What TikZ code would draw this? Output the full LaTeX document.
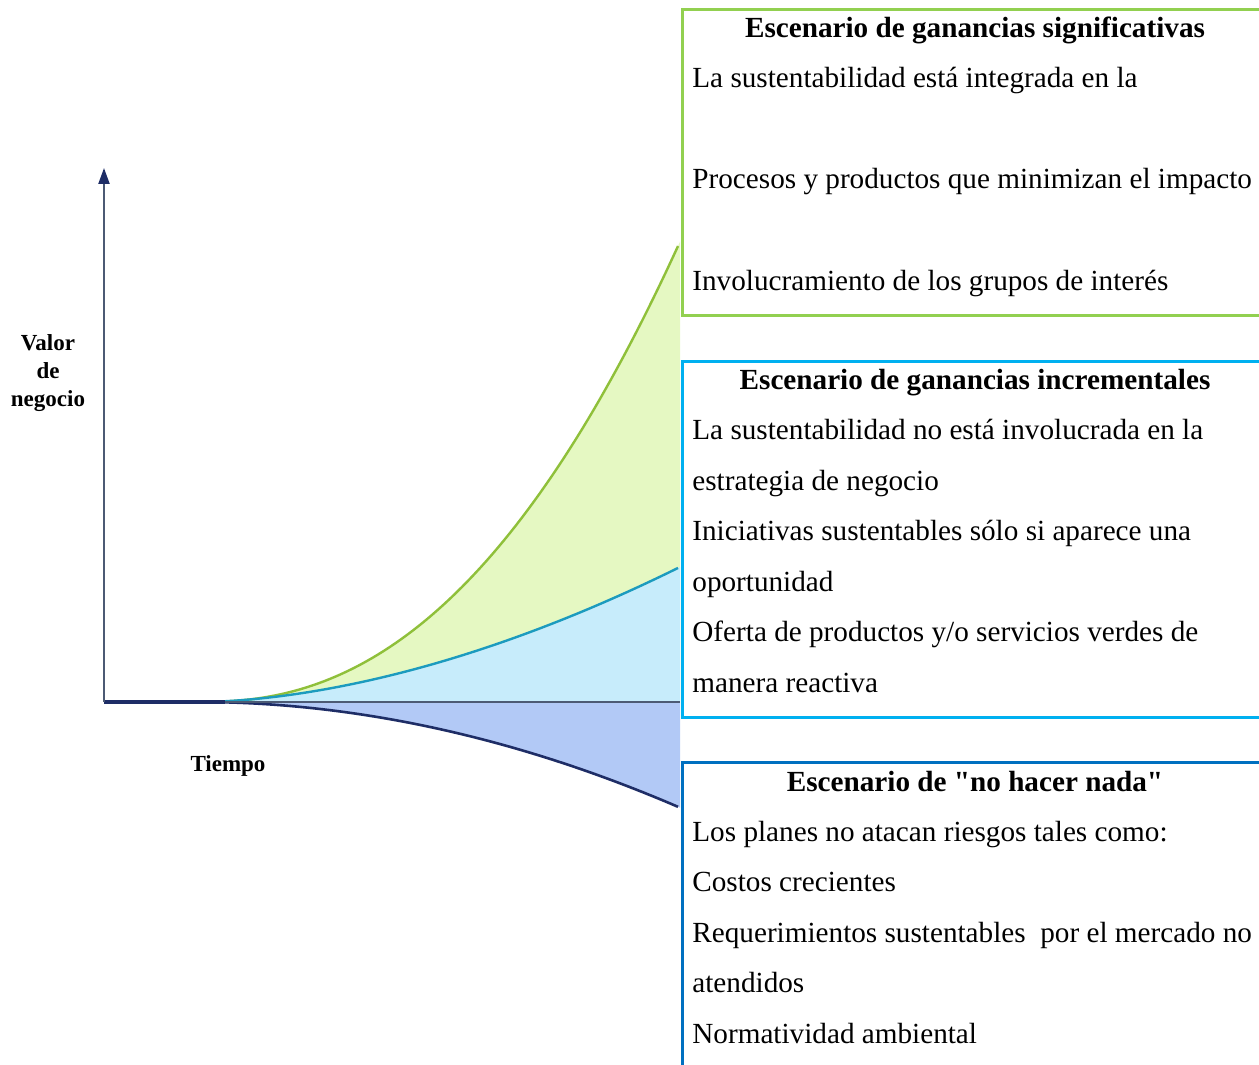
\documentclass[tikz,border=0pt]{standalone}
\usepackage{fontspec}
\setmainfont{Liberation Serif}[Ligatures=TeXOff]
\usetikzlibrary{arrows.meta}
\definecolor{fgreen}{HTML}{E5F8C2}
\definecolor{fcyan}{HTML}{C7ECFB}
\definecolor{fblue}{HTML}{B2C9F6}
\definecolor{lgreen}{HTML}{8FC03A}
\definecolor{lcyan}{HTML}{1C9BBE}
\definecolor{lnavy}{HTML}{1E2D66}
\definecolor{axisc}{HTML}{4C5A74}
\definecolor{bgreen}{HTML}{92D050}
\definecolor{bcyan}{HTML}{00B0F0}
\definecolor{bblue}{HTML}{0070C0}
\begin{document}
\begin{tikzpicture}[x=0.5pt,y=-0.5pt,
  body/.style={font=\fontsize{14.6}{17}\selectfont, inner sep=0pt, anchor=base west},
  ttl/.style={font=\bfseries\fontsize{14.6}{17}\selectfont, inner sep=0pt, anchor=base},
  lbl/.style={font=\bfseries\fontsize{11.5}{13}\selectfont, inner sep=0pt, anchor=base},
  boxline/.style={line width=1.5pt}]
\useasboundingbox (0,0) rectangle (1259,1065);
\fill[white] (0,0) rectangle (1259,1065);
% fills
\fill[fgreen] (104,702) -- (204,702) -- plot[domain=204:680, samples=80] (\x, {702-62*((\x-200)/200)^2.29}) -- (680,702) -- cycle;
\fill[fcyan] (104,702) -- (204,702) -- plot[domain=204:680, samples=80] (\x, {702-29*((\x-200)/200)^1.757}) -- (680,702) -- cycle;
\fill[fblue] (104,702) -- (204,702) -- plot[domain=204:680, samples=80] (\x, {702+19*((\x-200)/200)^1.96}) -- (680,702) -- cycle;
% curves
\draw[lgreen, line width=1.2pt] (204,702) -- plot[domain=204:678, samples=80] (\x, {702-62*((\x-200)/200)^2.29});
\draw[lcyan, line width=1.2pt] (204,702) -- plot[domain=204:678, samples=80] (\x, {702-29*((\x-200)/200)^1.757});
\draw[lnavy, line width=1.3pt] (204,702) -- plot[domain=204:678, samples=80] (\x, {702+19*((\x-200)/200)^1.96});
% axes
\coordinate (O) at (104,702);
\coordinate (Ytop) at (104,168);
\coordinate (Xend) at (680,702);
\draw[axisc, line width=1.1pt] (O) -- (Xend);
\draw[lnavy, line width=1.7pt] (O) -- (225,702);
\draw[axisc, line width=1.1pt, -{Triangle[length=8pt,width=5.5pt,fill=lnavy,color=lnavy]}] (O) -- (Ytop);
% axis labels
\node[lbl] (v1) at (48,350) {Valor};
\node[lbl] (v2) at (48,378) {de};
\node[lbl] (v3) at (48,406) {negocio};
\node[lbl] (t1) at (228,771) {Tiempo};
% boxes (open on the right)
\draw[bgreen, boxline] (1270,10) -- (682,10) -- (682,315) -- (1270,315);
\draw[bcyan, boxline] (1270,361) -- (682,361) -- (682,717) -- (1270,717);
\draw[bblue, boxline] (682,1080) -- (682,762) -- (1270,762);
% box 1
\node[ttl] (h1) at (975,38) {Escenario de ganancias significativas};
\node[body] (a1) at (692,88) {La sustentabilidad está integrada en la};
\node[body] (a2) at (692,189) {Procesos y productos que minimizan el impacto};
\node[body] (a3) at (692,290) {Involucramiento de los grupos de interés};
% box 2
\node[ttl] (h2) at (975,389) {Escenario de ganancias incrementales};
\node[body] (b1) at (692,439) {La sustentabilidad no está involucrada en la};
\node[body] (b2) at (692,490) {estrategia de negocio};
\node[body] (b3) at (692,540) {Iniciativas sustentables sólo si aparece una};
\node[body] (b4) at (692,591) {oportunidad};
\node[body] (b5) at (692,641) {Oferta de productos y/o servicios verdes de};
\node[body] (b6) at (692,692) {manera reactiva};
% box 3
\node[ttl] (h3) at (975,791) {Escenario de "no hacer nada"};
\node[body] (c1) at (692,841) {Los planes no atacan riesgos tales como:};
\node[body] (c2) at (692,891) {Costos crecientes};
\node[body] (c3) at (692,942) {Requerimientos sustentables\ \ por el mercado no};
\node[body] (c4) at (692,992) {atendidos};
\node[body] (c5) at (692,1043) {Normatividad ambiental};
\end{tikzpicture}
\end{document}
